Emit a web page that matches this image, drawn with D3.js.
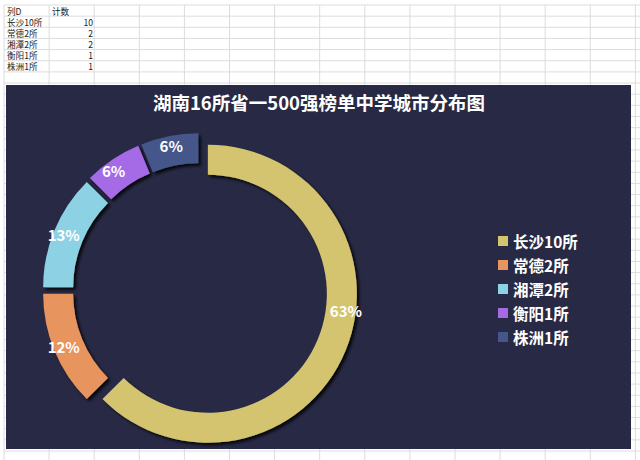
<!DOCTYPE html>
<html><head><meta charset="utf-8">
<script src="https://cdn.jsdelivr.net/npm/d3@7/dist/d3.min.js"></script>
<style>html,body{margin:0;padding:0;background:#fff;overflow:hidden}</style>
</head><body><svg id="c" width="640" height="460"></svg>
<script>
const categories = ["长沙10所","常德2所","湘潭2所","衡阳1所","株洲1所"];
const counts = [10, 2, 2, 1, 1];
const percentLabels = ["63%","12%","13%","6%","6%"];
const tableHeader = ["列D","计数"];
const title = "湖南16所省一500强榜单中学城市分布图";

const colors = ["#D4C470","#E8945F","#8DD2E4","#A56BE5","#45568A"];
const svg = d3.select("#c");
const font = "'Noto Sans CJK SC','Noto Sans',sans-serif";

// spreadsheet grid
const colX = d3.range(0, 15).map(i => 4 + i * 45.1);
const rowY = d3.range(0, 42).map(i => 5 + i * 11.15);
const grid = svg.append("g").attr("stroke", "#DCDCDC").attr("stroke-width", 1);
colX.forEach(x => grid.append("line").attr("x1", x).attr("x2", x).attr("y1", 5).attr("y2", 460));
rowY.forEach(y => grid.append("line").attr("x1", 4).attr("x2", 640).attr("y1", y).attr("y2", y));

// table text
const tt = svg.append("g").attr("font-family", font).attr("font-size", 8.6).attr("fill", "#222");
tt.append("text").attr("x", 7).attr("y", 10.5).attr("dominant-baseline", "central").text(tableHeader[0]);
tt.append("text").attr("x", 52).attr("y", 10.5).attr("dominant-baseline", "central").text(tableHeader[1]);
categories.forEach((c, i) => {
  const y = 10.5 + (i + 1) * 11.15;
  tt.append("text").attr("x", 7).attr("y", y).attr("dominant-baseline", "central").text(c);
  tt.append("text").attr("x", 93).attr("y", y).attr("dominant-baseline", "central").attr("text-anchor", "end").text(counts[i]);
});

// chart area
const chartX = 6, chartY = 85, chartW = 625, chartH = 364;
svg.append("rect").attr("x", chartX).attr("y", chartY).attr("width", chartW).attr("height", chartH)
  .attr("fill", "#282A45");

svg.append("text").attr("x", 319).attr("y", 110).attr("text-anchor", "middle")
  .attr("font-family", font).attr("font-weight", "bold").attr("font-size", 18.5)
  .attr("fill", "#fff").text(title);

const defs = svg.append("defs");
const f = defs.append("filter").attr("id", "sh").attr("x", "-20%").attr("y", "-20%").attr("width", "140%").attr("height", "140%");
f.append("feDropShadow").attr("dx", 2.5).attr("dy", 2.5).attr("stdDeviation", 1.5)
  .attr("flood-color", "#000").attr("flood-opacity", 0.85);

const cx = 200, cy = 290.5, R = 149, r = 119, explode = 8.5;
const pie = d3.pie().sort(null).value(d => d);
const arcs = pie(counts);
const arc = d3.arc().innerRadius(r).outerRadius(R);
const g = svg.append("g").attr("transform", `translate(${cx},${cy})`);

// label angle fraction within each slice (Excel best-fit placement)
const labelFrac = [0.43, 0.5, 0.5, 0.4, 0.5];
arcs.forEach((a, i) => {
  const mid = (a.startAngle + a.endAngle) / 2;
  const ox = Math.sin(mid) * explode, oy = -Math.cos(mid) * explode;
  const sg = g.append("g").attr("transform", `translate(${ox},${oy})`);
  sg.append("path").attr("d", arc(a)).attr("fill", colors[i]).attr("filter", "url(#sh)");
  const la = a.startAngle + (a.endAngle - a.startAngle) * labelFrac[i];
  const lr = (r + R) / 2 + 5;
  sg.append("text").attr("x", Math.sin(la) * lr).attr("y", -Math.cos(la) * lr)
    .attr("text-anchor", "middle").attr("dominant-baseline", "central")
    .attr("font-family", font).attr("font-weight", "bold").attr("font-size", 15)
    .attr("fill", "#fff").text(percentLabels[i]);
});

// legend
const lg = svg.append("g").attr("transform", "translate(498,241)");
categories.forEach((c, i) => {
  const row = lg.append("g").attr("transform", `translate(0,${i * 24})`);
  row.append("rect").attr("x", 0).attr("y", -5).attr("width", 10).attr("height", 10).attr("fill", colors[i]);
  row.append("text").attr("x", 15).attr("y", 0).attr("dominant-baseline", "central")
    .attr("font-family", font).attr("font-weight", "bold").attr("font-size", 15.5)
    .attr("fill", "#fff").text(c);
});
</script></body></html>
